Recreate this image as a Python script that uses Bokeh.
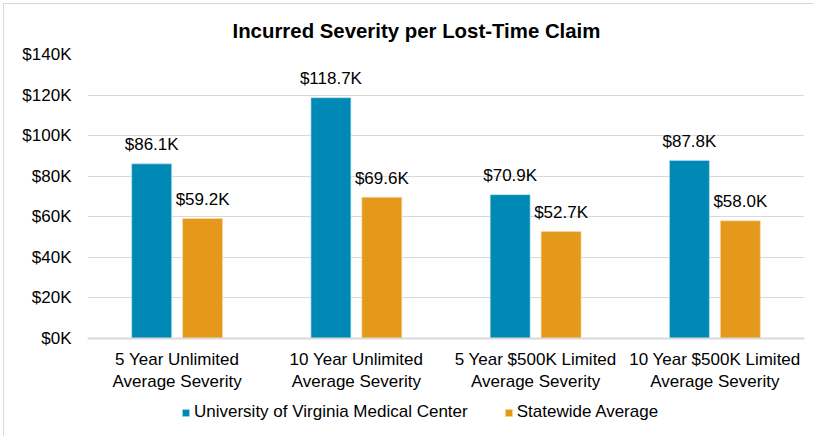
from bokeh.plotting import figure
from bokeh.models import (ColumnDataSource, FactorRange, FixedTicker, PrintfTickFormatter,
                          Legend, LegendItem, Range1d, Span)
from bokeh.transform import dodge
from bokeh.core.properties import value
from bokeh.embed import file_html
from bokeh.resources import INLINE

categories = [
    "5 Year Unlimited\nAverage Severity",
    "10 Year Unlimited\nAverage Severity",
    "5 Year $500K Limited\nAverage Severity",
    "10 Year $500K Limited\nAverage Severity",
]
uva_values = [86.1, 118.7, 70.9, 87.8]
state_values = [59.2, 69.6, 52.7, 58.0]
y_ticks = [0, 20, 40, 60, 80, 100, 120, 140]
series_names = ["University of Virginia Medical Center", "Statewide Average"]

BLUE = "#0089B4"
ORANGE = "#E4991B"
FONT = "Liberation Sans"

src = ColumnDataSource(dict(
    cat=categories,
    uva=uva_values,
    state=state_values,
    zero=[0] * len(categories),
    uva_lbl=[f"${v:.1f}K" for v in uva_values],
    state_lbl=[f"${v:.1f}K" for v in state_values],
))

p = figure(
    width=811, height=433,
    x_range=FactorRange(factors=categories, range_padding=0),
    y_range=Range1d(-48.8, 140),
    output_backend="svg", toolbar_location=None,
    min_border_left=83, min_border_right=11, min_border_top=50, min_border_bottom=0,
)
p.styles = {"border-top": "1px solid #d9d9d9", "border-left": "1px solid #d9d9d9",
            "margin-left": "3px", "margin-top": "3px"}

p.title.text = "Incurred Severity per Lost-Time Claim"
p.title.text_font = FONT
p.title.text_font_size = "20.4px"
p.title.text_font_style = "bold"
p.title.text_color = "#000000"
p.title.align = "left"
p.title.offset = 145
p.title.standoff = 26

p.xgrid.grid_line_color = None
p.ygrid.grid_line_color = "#D9D9D9"
p.ygrid.grid_line_width = 1
p.outline_line_color = None

bw = 0.223
off = 0.142
r1 = p.vbar(x=dodge("cat", -off, range=p.x_range), top="uva", width=bw, bottom=0,
            source=src, fill_color=BLUE, line_color="#BFE6F2", line_width=0.6)
r2 = p.vbar(x=dodge("cat", off, range=p.x_range), top="state", width=bw, bottom=0,
            source=src, fill_color=ORANGE, line_color="#F7DDB0", line_width=0.6)

p.add_layout(Span(location=0, dimension="width", line_color="#D9D9D9", line_width=2))

p.text(x=dodge("cat", -off, range=p.x_range), y="uva", text="uva_lbl", source=src,
       text_align="center", text_baseline="alphabetic", y_offset=-19,
       text_font=value(FONT), text_font_size="17px", text_color="#000000")
p.text(x=dodge("cat", off, range=p.x_range), y="state", text="state_lbl", source=src,
       text_align="center", text_baseline="alphabetic", y_offset=-19,
       text_font=value(FONT), text_font_size="17px", text_color="#000000")

# category labels (drawn under the baseline)
p.text(x="cat", y="zero", text="cat", source=src,
       text_align="center", text_baseline="top", y_offset=11, text_line_height=1.18,
       text_font=value(FONT), text_font_size="17px", text_color="#000000")

p.xaxis.visible = False

p.yaxis.ticker = FixedTicker(ticks=y_ticks)
p.yaxis.formatter = PrintfTickFormatter(format="$%dK")
p.yaxis.axis_line_color = None
p.yaxis.major_tick_line_color = None
p.yaxis.minor_tick_line_color = None
p.yaxis.major_tick_out = 0
p.yaxis.major_tick_in = 0
p.yaxis.minor_tick_out = 0
p.yaxis.major_label_standoff = 16
p.yaxis.major_label_text_font = FONT
p.yaxis.major_label_text_font_size = "17px"
p.yaxis.major_label_text_color = "#000000"

legend = Legend(
    items=[LegendItem(label=series_names[0], renderers=[r1]),
           LegendItem(label=series_names[1], renderers=[r2])],
    orientation="horizontal", location=(94, 15),
    glyph_width=9, glyph_height=9, label_standoff=4, spacing=36,
    padding=0, margin=0, border_line_color=None, background_fill_alpha=0,
    label_text_font=FONT, label_text_font_size="17px", label_text_color="#000000",
)
p.add_layout(legend, "center")

open("out.html", "w").write(file_html(p, INLINE))
